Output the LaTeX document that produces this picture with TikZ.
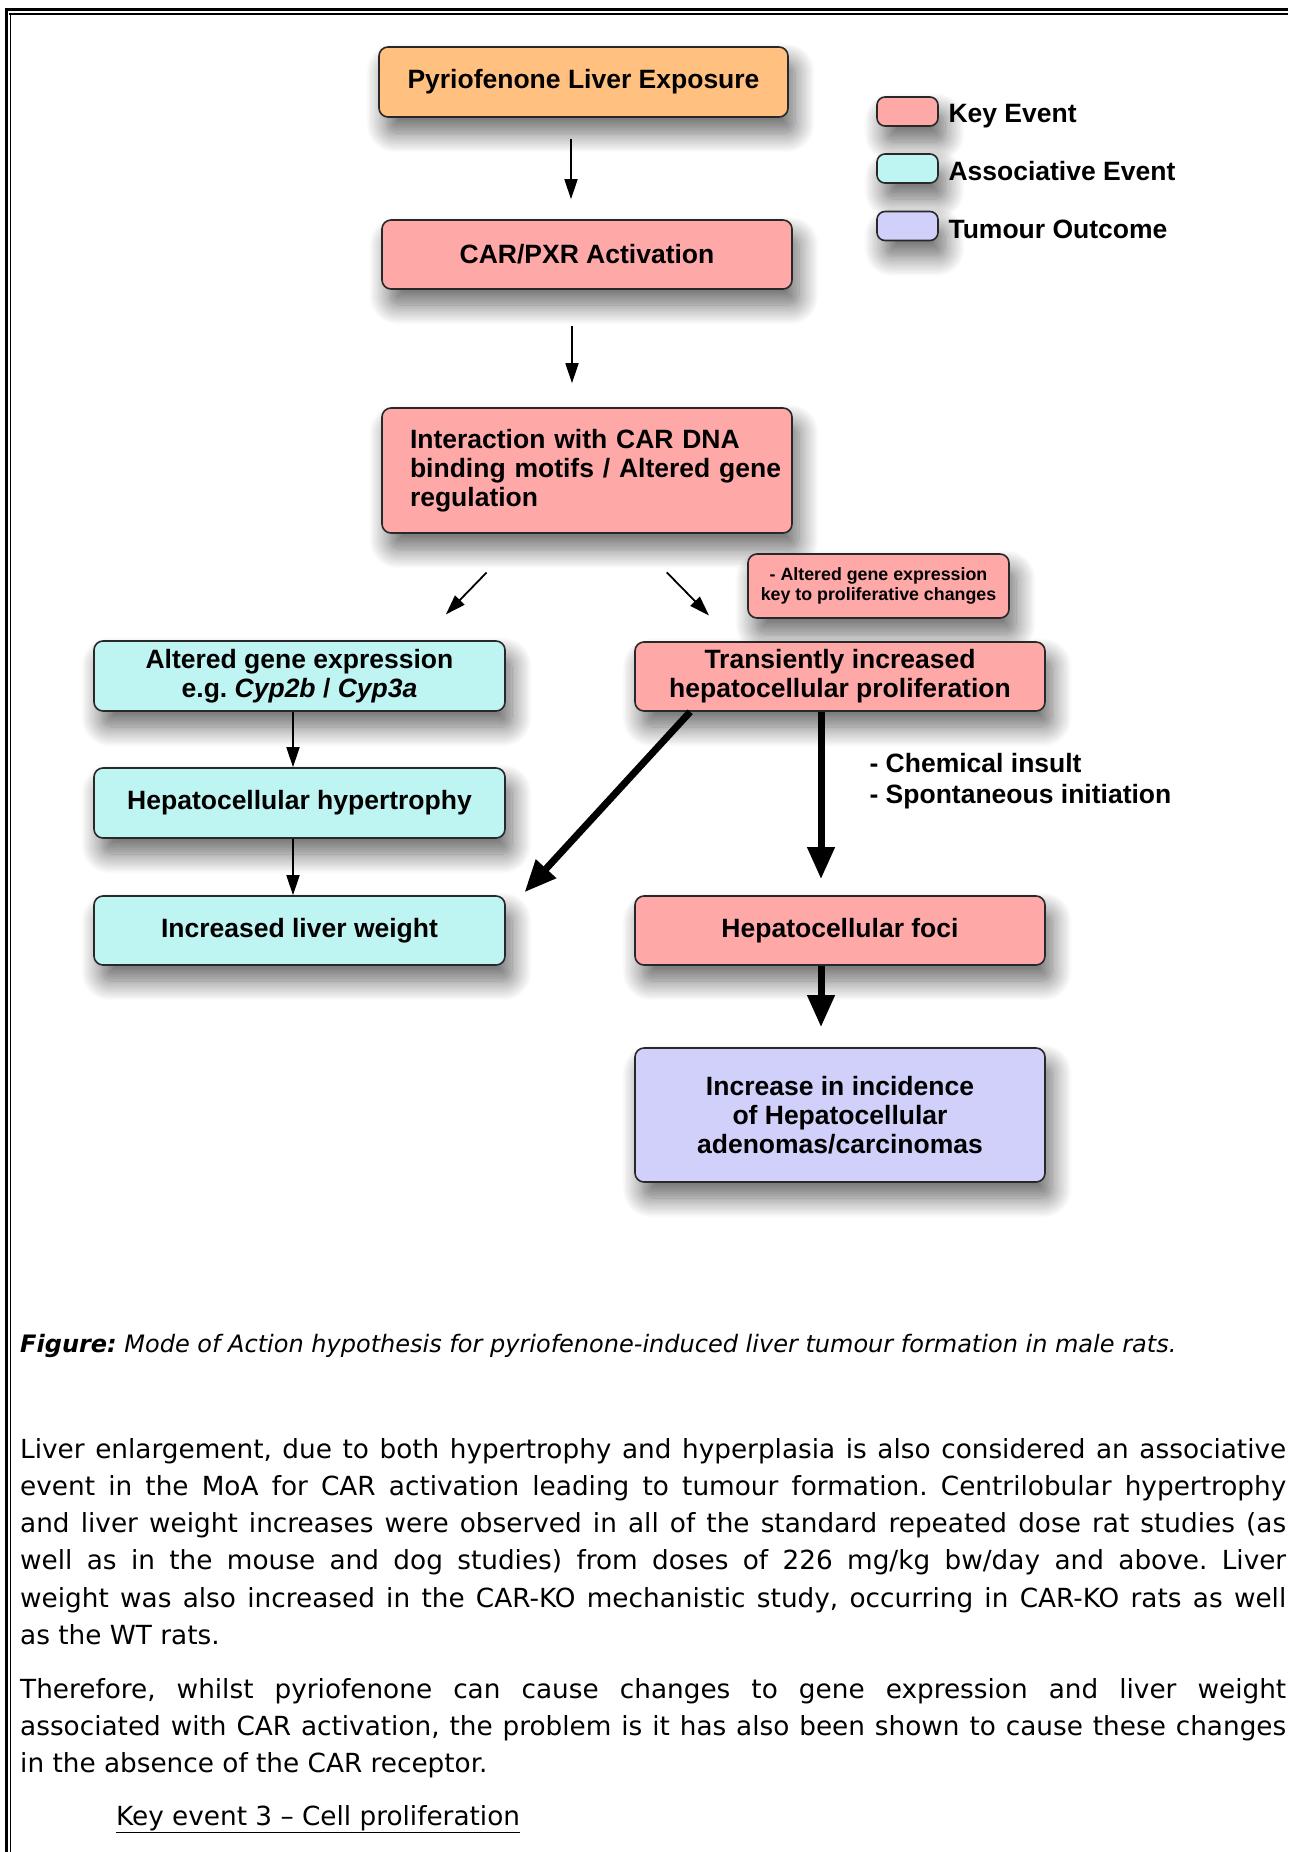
\documentclass[tikz,border=0pt]{standalone}
\usepackage{fontspec}
\setmainfont{DejaVu Sans}[ItalicFont={DejaVu Sans Oblique}, BoldItalicFont={DejaVu Sans Bold Oblique}]
\newfontfamily\boxfont{Liberation Sans}
\usetikzlibrary{arrows.meta,shadows.blur}
\definecolor{exporange}{RGB}{255,192,128}
\definecolor{keypink}{RGB}{255,168,168}
\definecolor{assoccyan}{RGB}{190,244,242}
\definecolor{tumourblue}{RGB}{208,208,250}
\definecolor{boxline}{RGB}{40,40,40}
\frenchspacing

\begin{document}
\begin{tikzpicture}[x=1pt, y=-1pt,
    evtbox/.style={draw=boxline, line width=1.6pt, rounded corners=9pt, inner sep=0pt, align=center,
        minimum width=410pt, minimum height=70pt,
        font=\boxfont\bfseries\fontsize{26.5}{29}\selectfont,
        blur shadow={shadow xshift=7pt, shadow yshift=-16pt, shadow blur radius=20pt,
                     shadow blur steps=16, shadow opacity=60}},
    expobox/.style={evtbox, fill=exporange},
    keybox/.style={evtbox, fill=keypink},
    assocbox/.style={evtbox, fill=assoccyan},
    tumbox/.style={evtbox, fill=tumourblue},
    legbox/.style={evtbox, minimum width=61pt, minimum height=29pt, rounded corners=8pt},
    legtext/.style={anchor=west, font=\boxfont\bfseries\fontsize{26.5}{29}\selectfont},
    smallarrow/.style={-{Triangle[length=20pt, width=13pt]}, line width=1.8pt},
    bigarrow/.style={-{Triangle[length=32pt, width=26pt]}, line width=7pt},
    bodytext/.style={anchor=base west, inner sep=0pt, text width=1266pt, align=justify,
        font=\fontsize{26.3}{37.3}\selectfont}
]
\useasboundingbox (0,0) rectangle (1288,1852);

% page frame
\draw[line width=3pt] (5,9.5) -- (1288,9.5);
\draw[line width=1.6pt] (9,14) -- (1288,14);
\draw[line width=3pt] (6.5,8) -- (6.5,1852);
\draw[line width=1.6pt] (10.5,13) -- (10.5,1852);

% legend
\node[legbox, fill=keypink]    (legkey)   at (907.5,111.5) {};
\node[legbox, fill=assoccyan]  (legassoc) at (907.5,168.5) {};
\node[legbox, fill=tumourblue] (legtum)   at (907.5,226)   {};
\node[legtext] (legkeyt)   at (945,116) {Key Event};
\node[legtext] (legassoct) at (945,171) {Associative Event};
\node[legtext] (legtumt)   at (945,229) {Tumour Outcome};

% events
\node[expobox, minimum width=409pt] (expo)     at (583.5,82)  {Pyriofenone Liver Exposure};
\node[keybox, minimum height=69pt]  (carpxr)   at (587,254.5) {CAR/PXR Activation};
\node[keybox, minimum height=125pt, text width=396pt, align=left] (interact) at (587,470.5)
    {\hspace*{21pt}Interaction with CAR DNA\\\hspace*{21pt}binding motifs / Altered gene\\\hspace*{21pt}regulation};
\node[keybox, minimum width=261pt, minimum height=64pt,
      font=\boxfont\bfseries\fontsize{17.8}{20}\selectfont] (keynote) at (878.5,586)
    {- Altered gene expression\\key to proliferative changes};
\node[assocbox, minimum width=411pt] (altgene)  at (299.5,676)   {Altered gene expression\\e.g. \textit{Cyp2b} / \textit{Cyp3a}};
\node[assocbox, minimum width=411pt] (hypertro) at (299.5,803)   {Hepatocellular hypertrophy};
\node[assocbox, minimum width=411pt, minimum height=69pt] (liverwt) at (299.5,930.5) {Increased liver weight};
\node[keybox, minimum height=69pt]  (prolif)   at (840,676.5)  {Transiently increased\\hepatocellular proliferation};
\node[keybox, minimum height=69pt]  (foci)     at (840,930.5)  {Hepatocellular foci};
\node[tumbox, minimum height=134pt] (tumour)   at (840,1115)   {Increase in incidence\\of Hepatocellular\\adenomas/carcinomas};
\node[legtext, align=left, font=\boxfont\bfseries\fontsize{26.5}{30.7}\selectfont] (insult) at (866,781)
    {- Chemical insult\\- Spontaneous initiation};

% connectors
\draw[smallarrow, shorten <=21pt, shorten >=20pt] ([xshift=-12.5pt]expo.south) -- ([xshift=-16pt]carpxr.north);
\draw[smallarrow, shorten <=36pt, shorten >=24pt] ([xshift=-15pt]carpxr.south) -- ([xshift=-15pt]interact.north);
\draw[smallarrow, shorten <=54pt, shorten >=36pt] ([xshift=143pt]interact.south west) -- ([xshift=-85pt]altgene.north east);
\draw[smallarrow, shorten <=54pt, shorten >=36pt] ([xshift=42pt]interact.south) -- ([xshift=100pt]prolif.north west);
\draw[smallarrow] ([xshift=-6.5pt]altgene.south) -- ([xshift=-6.5pt]hypertro.north);
\draw[smallarrow] ([xshift=-6.5pt]hypertro.south) -- ([xshift=-6.5pt]liverwt.north);
\draw[bigarrow, shorten >=16pt] ([xshift=-19pt]prolif.south) -- ([xshift=-19pt]foci.north);
\draw[bigarrow, shorten >=20pt] ([xshift=-19pt]foci.south) -- ([xshift=-19pt]tumour.north);
\draw[bigarrow, shorten >=4pt] ([xshift=56pt]prolif.south west) -- ([xshift=16pt]liverwt.north east);

% caption and text below
\node[anchor=base west, inner sep=0pt, font=\fontsize{24}{37.3}\selectfont] (caption) at (20,1352)
    {\textbf{\textit{Figure:}} \textit{Mode of Action hypothesis for pyriofenone-induced liver tumour formation in male rats.}};
\node[bodytext] (para1) at (20,1458)
    {Liver enlargement, due to both hypertrophy and hyperplasia is also considered an associative\linebreak
     event in the MoA for CAR activation leading to tumour formation. Centrilobular hypertrophy\linebreak
     and liver weight increases were observed in all of the standard repeated dose rat studies (as\linebreak
     well as in the mouse and dog studies) from doses of 226 mg/kg bw/day and above. Liver\linebreak
     weight was also increased in the CAR-KO mechanistic study, occurring in CAR-KO rats as well\linebreak
     as the WT rats.};
\node[bodytext] (para2) at (20,1698)
    {Therefore, whilst pyriofenone can cause changes to gene expression and liver weight\linebreak
     associated with CAR activation, the problem is it has also been shown to cause these changes\linebreak
     in the absence of the CAR receptor.};
\node[anchor=base west, inner sep=0pt, font=\fontsize{26.3}{37.3}\selectfont] (heading) at (116,1825)
    {\underline{Key event 3 – Cell proliferation}};
\end{tikzpicture}
\end{document}
